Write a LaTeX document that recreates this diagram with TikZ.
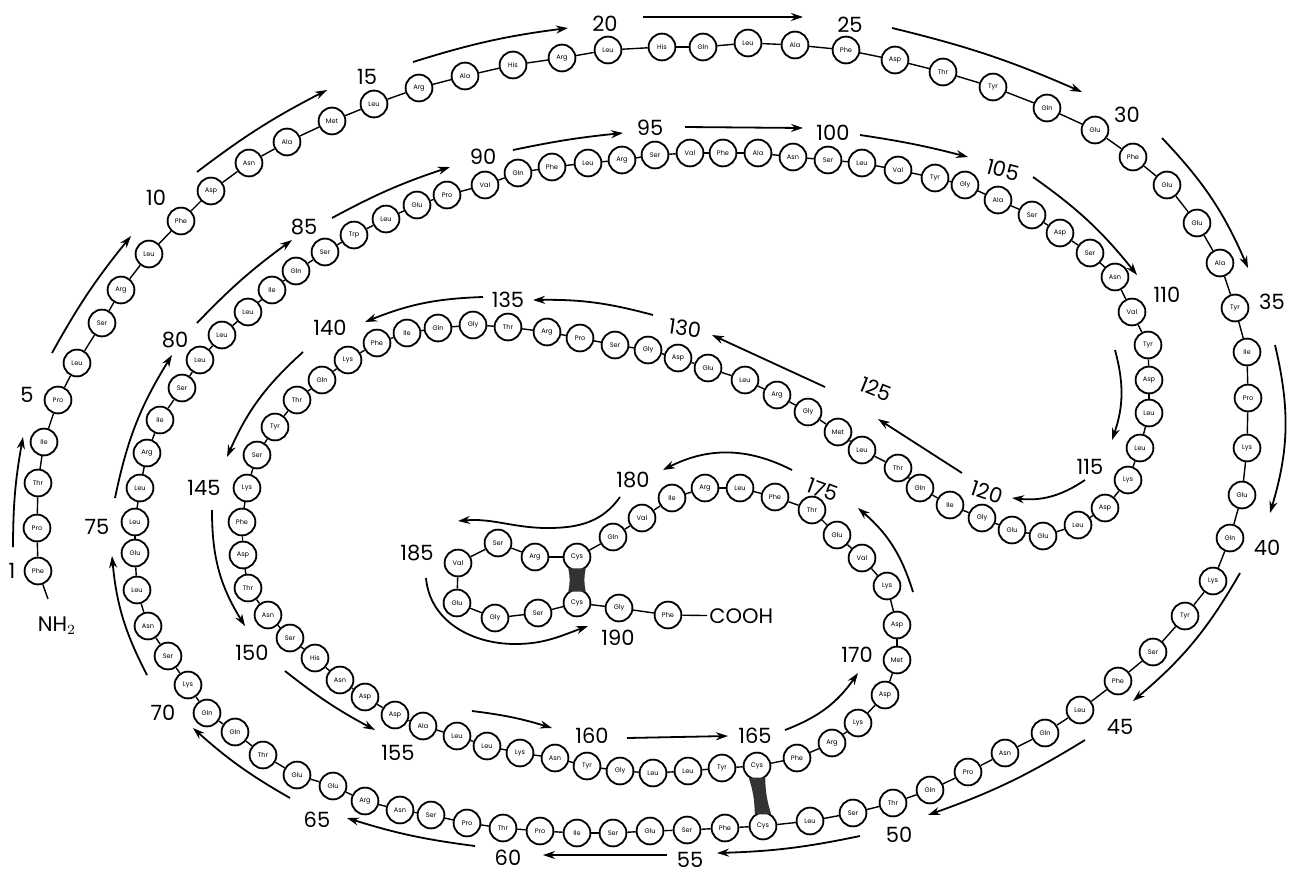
\documentclass[tikz,border=0pt]{standalone}
\usepackage{fontspec}
\setmainfont{Poppins}
\usetikzlibrary{arrows.meta,calc}
\begin{document}
\begin{tikzpicture}[x=0.5pt,y=0.5pt,
  res/.style={circle,draw,line width=0.9pt,minimum size=13.4pt,inner sep=0pt,fill=white,font=\fontsize{3.3}{4}\selectfont},
  link/.style={line width=0.7pt},
  arr/.style={line width=0.9pt,-{Stealth[length=6pt,width=4pt]}},
  num/.style={font=\fontsize{10.5}{12}\selectfont,inner sep=1pt},
  ssbond/.style={fill=black!80}]
\useasboundingbox (0,0) rectangle (1290,-873);
% residues
\foreach \x/\y/\n [count=\i] in {
38/571/Phe,37/528/Pro,38/483/Thr,44/442/Ile,58/400/Pro,77/363/Leu,102/323/Ser,121/290/Arg,149/254/Leu,181/221/Phe,
211/191/Asp,249/163/Asn,287/142/Ala,332/121/Met,374/104/Leu,419/88/Arg,465/76/Ala,513/65/His,562/58/Arg,608/50/Leu,
662/47/His,703/47/Gln,748/43/Leu,795/45/Ala,846/50/Phe,895/60/Asp,943/72/Thr,993/87/Tyr,1047/108/Gln,1095/130/Glu,
1133/157/Phe,1167/185/Glu,1197/223/Glu,1220/263/Ala,1235/308/Tyr,1247/352/Ile,1248/398/Pro,1247/448/Lys,1242/495/Glu,1230/538/Gln,
1213/581/Lys,1185/616/Tyr,1153/652/Ser,1118/681/Phe,1080/710/Leu,1045/733/Gln,1005/753/Asn,968/772/Pro,930/790/Gln,893/803/Thr,
853/813/Ser,810/821/Leu,763/826/Cys,725/828/Phe,687/830/Ser,650/831/Glu,613/833/Ser,577/833/Ile,540/831/Pro,503/828/Thr,
467/823/Pro,431/815/Ser,400/810/Asn,365/801/Arg,333/786/Glu,297/775/Glu,263/755/Thr,235/732/Gln,207/713/Gln,188/685/Lys,
168/656/Ser,148/626/Asn,137/590/Leu,135/553/Glu,135/522/Leu,140/488/Leu,147/453/Arg,160/420/Ile,182/388/Ser,200/360/Leu,
222/335/Leu,248/312/Leu,272/290/Ile,296/271/Gln,325/252/Ser,354/235/Trp,386/219/Leu,417/205/Glu,447/195/Pro,485/185/Val,
518/173/Gln,552/167/Phe,588/163/Leu,622/160/Arg,655/155/Ser,690/153/Val,723/153/Phe,758/153/Ala,793/157/Asn,828/160/Ser,
862/163/Leu,898/170/Val,935/178/Tyr,965/185/Gly,998/200/Ala,1032/215/Ser,1060/233/Asp,1090/253/Ser,1115/277/Asn,1132/312/Val,
1148/345/Tyr,1149/380/Asp,1149/413/Leu,1140/448/Leu,1128/480/Lys,1105/508/Asp,1078/525/Leu,1043/536/Glu,1012/530/Glu,982/518/Gly,
950/505/Ile,920/488/Gln,898/468/Thr,862/450/Leu,838/432/Met,808/412/Gly,777/395/Arg,745/380/Leu,708/368/Glu,678/358/Asp,
648/350/Gly,615/345/Ser,580/338/Pro,547/332/Arg,508/327/Thr,473/325/Gly,438/328/Gln,407/333/Ile,377/343/Phe,348/360/Lys,
322/380/Gln,297/400/Thr,275/427/Tyr,257/455/Ser,247/488/Lys,242/522/Phe,243/555/Asp,248/588/Thr,268/615/Asn,290/638/Ser,
315/658/His,340/680/Asn,365/697/Asp,395/715/Asp,423/726/Ala,457/736/Leu,487/746/Leu,520/753/Lys,555/758/Asn,587/766/Tyr,
620/771/Gly,653/773/Leu,688/771/Leu,722/768/Tyr,757/766/Cys,797/758/Phe,832/743/Arg,858/723/Lys,885/695/Asp,897/660/Met,
897/625/Asp,887/586/Lys,862/558/Val,837/535/Glu,812/510/Thr,775/497/Phe,740/488/Leu,705/488/Arg,672/498/Ile,642/518/Val,
613/537/Gln,577/557/Cys,535/557/Arg,498/543/Ser,458/563/Val,457/603/Glu,495/618/Gly,538/613/Ser,577/603/Cys,619/608/Gly,
668/615/Phe}
{ \node[res] (r\i) at (\x,-\y) {\n}; }
% peptide bonds
\foreach \i in {1,...,190}{ \pgfmathtruncatemacro\j{\i+1} \draw[link] (r\i) -- (r\j); }
% disulfide bridges
\fill[ssbond] (r182.-128) -- (r182.-52) to[bend right=12] (r189.52) -- (r189.128) to[bend right=12] cycle;
\fill[ssbond] (r165.-125) -- (r165.-55) to[bend right=8] (r53.55) -- (r53.125) to[bend right=8] cycle;
% termini
\node[num] (nh) at (57,-626) {NH$_2$};
\coordinate (nhtop) at (48,-599);
\draw[link] (r1) -- (nhtop);
\node[num,anchor=west] (cooh) at (707,-616) {COOH};
\draw[link] (r191) -- (cooh);
% numbers
\foreach \x/\y/\t/\r in {12/571/1/0,27/395/5/0,156/198/10/0,367/77/15/0,605/24/20/0,850/25/25/0,1127/115/30/0,
1272/302/35/0,1267/548/40/0,1120/727/45/0,899/835/50/0,690/860/55/0,508/858/60/0,317/820/65/0,163/713/70/0,
97/527/75/0,175/340/80/0,304/227/85/0,483/157/90/0,650/128/95/0,833/133/100/0,1003/170/105/-15,1167/295/110/0,
1090/467/115/0,987/492/120/-18,876/389/125/-22,685/328/130/-8,508/300/135/0,330/328/140/0,204/488/145/0,
252/653/150/0,398/753/155/0,592/736/160/0,755/736/165/0,857/655/170/0,823/490/175/-20,633/480/180/0,
417/553/185/0,618/638/190/0}
{ \node[num,rotate=\r] (lab\t) at (\x,-\y) {\t}; }
% direction arrows
\foreach \sx/\sy/\ex/\ey/\b [count=\k] in {
13/547/23/437/5, 52/353/131/236/5, 197/172/327/90/5, 413/62/568/28/5, 643/17/803/17/0,
892/28/1082/92/5, 1162/138/1248/268/10, 1275/345/1270/513/15, 1240/573/1133/701/10, 1085/740/928/815/6,
860/836/717/853/5, 667/855/543/855/0, 475/846/347/818/5, 290/798/193/728/6, 147/675/112/556/11,
115/498/172/355/10, 197/323/292/240/5, 332/218/450/167/5, 513/150/623/133/3, 685/127/803/128/0,
860/135/968/157/3, 1033/177/1137/275/8, 1115/350/1112/440/17, 1085/480/1012/498/20, 962/473/878/419/0,
825/387/712/335/0, 653/315/533/300/-8, 483/297/365/322/-10, 303/352/227/457/-12, 212/510/245/626/-16,
285/671/375/730/-5, 472/711/552/728/5, 627/738/728/736/0, 785/730/858/673/-17, 913/592/858/508/-16,
792/470/663/470/-27}
{ \coordinate (as\k) at (\sx,-\sy); \coordinate (ae\k) at (\ex,-\ey);
  \draw[arr] (as\k) to[bend left=\b] (ae\k); }
\coordinate (sA) at (620,-497); \coordinate (sB) at (548,-528); \coordinate (sC) at (458,-521);
\draw[arr] (sA) to[out=-125,in=0] (sB) to[out=180,in=5] (sC);
\coordinate (lA) at (426,-578); \coordinate (lB) at (515,-644); \coordinate (lC) at (588,-626);
\draw[arr] (lA) to[out=-85,in=180] (lB) to[out=0,in=-160] (lC);
\end{tikzpicture}
\end{document}
